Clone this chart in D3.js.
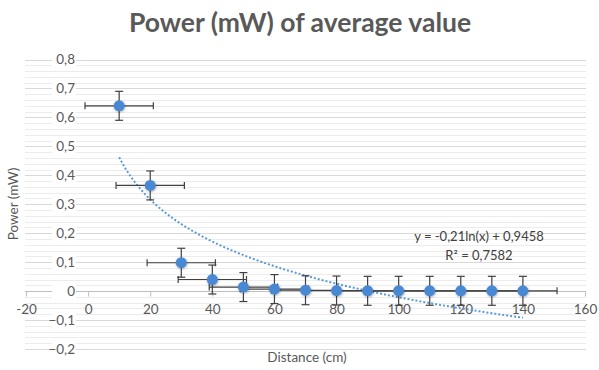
<!DOCTYPE html>
<html><head><meta charset="utf-8">
<script src="https://cdn.jsdelivr.net/npm/d3@7"></script>
<style>body{margin:0;background:#fff}svg{display:block}</style>
</head><body><svg id="c" width="599" height="370"></svg>
<script>
const distance = [10,20,30,40,50,60,70,80,90,100,110,120,130,140];
const power    = [0.64,0.365,0.098,0.04,0.014,0.007,0.003,0.002,0.001,0.001,0.001,0.001,0.001,0.001];
const xErr     = [11,11,11,11,11,11,11,11,11,11,11,11,11,11];
const yErr     = [0.05,0.05,0.05,0.05,0.05,0.05,0.05,0.05,0.05,0.05,0.05,0.05,0.05,0.05];
const xTicks = [-20,0,20,40,60,80,100,120,140,160];
const yTicks = [-0.2,-0.1,0,0.1,0.2,0.3,0.4,0.5,0.6,0.7,0.8];
const trendA = -0.21, trendB = 0.9458;
const trendLabel1 = "y = -0,21ln(x) + 0,9458";
const trendLabel2 = "R² = 0,7582";
const title = "Power (mW) of average value";
const xTitle = "Distance (cm)", yTitle = "Power (mW)";

const svg = d3.select("#c");
const font = "Lato, 'Open Sans', sans-serif";
const x = d3.scaleLinear().domain([-20,160]).range([26,585]);
const y = d3.scaleLinear().domain([-0.2,0.8]).range([349,59.5]);
const fmtY = v => v === 0 ? "0" : d3.format(".1f")(v).replace(".", ",");

const defs = svg.append("defs");
const f = defs.append("filter").attr("id","sh").attr("x","-50%").attr("y","-50%").attr("width","200%").attr("height","200%");
f.append("feDropShadow").attr("dx",0.5).attr("dy",0.8).attr("stdDeviation",1.2).attr("flood-color","#000").attr("flood-opacity",0.35);

// minor gridlines
const minor = d3.range(-0.2, 0.8001, 0.02).map(v => +v.toFixed(2));
svg.append("g").selectAll("line").data(minor).join("line")
  .attr("x1",25).attr("x2",586).attr("y1",d=>Math.round(y(d))+0.5).attr("y2",d=>Math.round(y(d))+0.5)
  .attr("stroke","#ececec").attr("stroke-width",1);
// major gridlines
svg.append("g").selectAll("line").data(yTicks).join("line")
  .attr("x1",25).attr("x2",586).attr("y1",d=>Math.round(y(d))+0.5).attr("y2",d=>Math.round(y(d))+0.5)
  .attr("stroke","#d9d9d9").attr("stroke-width",1);

// x axis at y=0
const xAxis = d3.axisBottom(x).tickValues(xTicks).tickSize(5).tickFormat(d=>d);
const gx = svg.append("g").attr("transform",`translate(0,${Math.round(y(0))+0.5})`).call(xAxis);
gx.select(".domain").attr("stroke","#bfbfbf").attr("d",`M25,0H586`);
gx.selectAll(".tick line").attr("stroke","#bfbfbf");
gx.selectAll(".tick text").attr("fill","#595959").attr("font-family",font).attr("font-size",13.5).attr("dy","1.05em");

// y tick labels
const gy = svg.append("g").selectAll("g").data(yTicks).join("g")
  .attr("transform",d=>`translate(75,${y(d)})`);
gy.append("rect").attr("x",-23).attr("y",-7).attr("width",24).attr("height",14).attr("fill","#fff");
gy.append("text").attr("text-anchor","end").attr("dy","0.35em").attr("fill","#595959")
  .attr("font-family",font).attr("font-size",13.5).text(fmtY);

// trendline
const tx = d3.range(10, 140.01, 1);
const line = d3.line().x(d=>x(d)).y(d=>y(trendA*Math.log(d)+trendB));
svg.append("path").attr("d",line(tx)).attr("fill","none").attr("stroke","#5b9bd5")
  .attr("stroke-width",2).attr("stroke-dasharray","2 2");

// error bars
const data = distance.map((d,i)=>({x:d,y:power[i],ex:xErr[i],ey:yErr[i]}));
const eb = svg.append("g").attr("stroke","#404040").attr("stroke-width",1.2).attr("fill","none");
data.forEach(d=>{
  const cx = x(d.x), cy = y(d.y);
  eb.append("line").attr("x1",x(d.x-d.ex)).attr("x2",x(d.x+d.ex)).attr("y1",cy).attr("y2",cy);
  eb.append("line").attr("x1",x(d.x-d.ex)).attr("x2",x(d.x-d.ex)).attr("y1",cy-3.5).attr("y2",cy+3.5);
  eb.append("line").attr("x1",x(d.x+d.ex)).attr("x2",x(d.x+d.ex)).attr("y1",cy-3.5).attr("y2",cy+3.5);
  eb.append("line").attr("x1",cx).attr("x2",cx).attr("y1",y(d.y+d.ey)).attr("y2",y(d.y-d.ey));
  eb.append("line").attr("x1",cx-4).attr("x2",cx+4).attr("y1",y(d.y+d.ey)).attr("y2",y(d.y+d.ey));
  eb.append("line").attr("x1",cx-4).attr("x2",cx+4).attr("y1",y(d.y-d.ey)).attr("y2",y(d.y-d.ey));
});

// markers
svg.append("g").selectAll("circle").data(data).join("circle")
  .attr("cx",d=>x(d.x)).attr("cy",d=>y(d.y)).attr("r",5.5)
  .attr("fill","#4a88d2").attr("filter","url(#sh)");

// trend label
svg.append("text").attr("x",479).attr("y",241).attr("text-anchor","middle").attr("fill","#404040")
  .attr("font-family",font).attr("font-size",13).text(trendLabel1);
svg.append("text").attr("x",479).attr("y",260).attr("text-anchor","middle").attr("fill","#404040")
  .attr("font-family",font).attr("font-size",13).text(trendLabel2);

// titles
svg.append("text").attr("x",300).attr("y",32).attr("text-anchor","middle").attr("fill","#595959")
  .attr("font-family",font).attr("font-weight","bold").attr("font-size",26.5).text(title);
svg.append("text").attr("x",307).attr("y",362).attr("text-anchor","middle").attr("fill","#595959")
  .attr("font-family",font).attr("font-size",13.5).text(xTitle);
svg.append("text").attr("transform","translate(18,204) rotate(-90)").attr("text-anchor","middle").attr("fill","#595959")
  .attr("font-family",font).attr("font-size",13.5).text(yTitle);
</script></body></html>
